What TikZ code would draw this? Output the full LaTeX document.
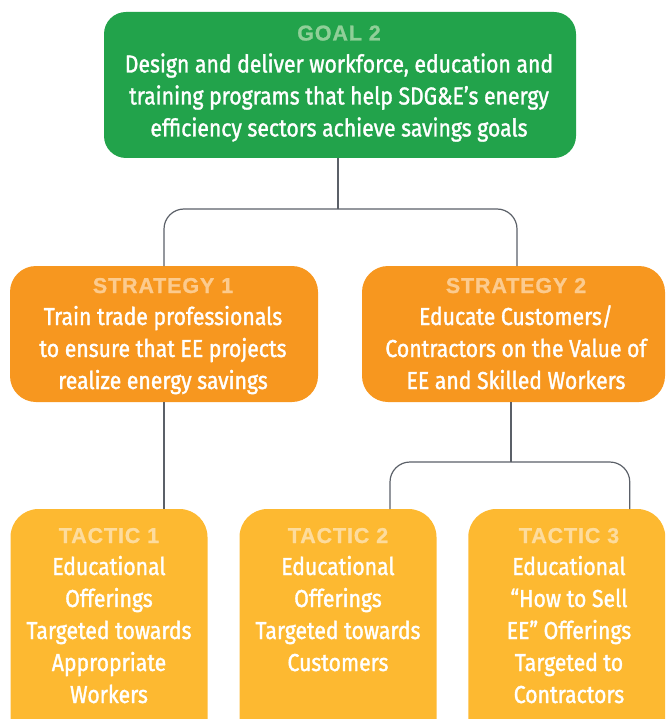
\documentclass[tikz,border=0pt]{standalone}
\usepackage{fontspec}
\newfontfamily\bodyfont{Fira Sans}[FakeStretch=0.865,FakeBold=1.4]
\newfontfamily\labfont{Liberation Sans}[LetterSpace=4,FakeBold=1]
\definecolor{goalgreen}{HTML}{22A34B}
\definecolor{goallab}{HTML}{90CF98}
\definecolor{stratorange}{HTML}{F7971F}
\definecolor{stratlab}{HTML}{FCCB8E}
\definecolor{tacyellow}{HTML}{FDB931}
\definecolor{taclab}{HTML}{FDDC9D}
\definecolor{connector}{HTML}{5B6068}
\newcommand{\topstrut}{\rule{0pt}{22pt}}
\newcommand{\lab}[2]{{\labfont\bfseries\color{#1}\fontsize{21.5}{32}\selectfont\topstrut #2}}
\begin{document}
\begin{tikzpicture}[x=1pt,y=-1pt,
  boxbase/.style={inner sep=0pt, outer sep=0pt, draw=none},
  goalbox/.style={boxbase, fill=goalgreen, rounded corners=22pt, minimum width=472pt, minimum height=146pt},
  stratbox/.style={boxbase, fill=stratorange, rounded corners=26pt, minimum height=136pt},
  tacbox/.style={boxbase, fill=tacyellow, rounded corners=28pt, minimum width=197pt, minimum height=251pt},
  boxtext/.style={inner sep=0pt, outer sep=0pt, anchor=north, align=center, text=white,
    font=\bodyfont\fontsize{24.5}{32}\selectfont},
  conn/.style={draw=connector, line width=1.2pt, rounded corners=20pt},
]
\useasboundingbox (0,0) rectangle (665,719);
\clip (0,0) rectangle (665,719);

% boxes
\node[goalbox] (goal) at (340,85) {};
\node[stratbox, minimum width=308pt] (s1) at (164,334) {};
\node[stratbox, minimum width=303pt] (s2) at (513.5,334) {};
\node[tacbox] (t1) at (109,634.5) {};
\node[tacbox] (t2) at (338,634.5) {};
\node[tacbox] (t3) at (566.75,634.5) {};

% connectors
\coordinate (j1) at ([xshift=-2pt,yshift=-51pt]goal.south);
\coordinate (j2) at ([xshift=-2.5pt,yshift=-60pt]s2.south);
\draw[conn] ([xshift=-2pt]goal.south) -- (j1);
\draw[conn] (j1) -| (s1.north);
\draw[conn] (j1) -| ([xshift=3.5pt]s2.north);
\draw[conn] (s1.south) -- (s1.south |- t1.north);
\draw[conn] ([xshift=-2.5pt]s2.south) -- (j2);
\draw[conn] (j2) -| ([xshift=52pt]t2.north);
\draw[conn] (j2) -| ([xshift=63pt]t3.north);

% texts
\node[boxtext] (goaltxt) at (339,18.5)
  {\lab{goallab}{GOAL 2}\\
   Design and deliver workforce, education and\\
   training programs that help SDG\&E’s energy\\
   efficiency sectors achieve savings goals};
\node[boxtext] (s1txt) at (163,271)
  {\lab{stratlab}{STRATEGY 1}\\
   Train trade professionals\\
   to ensure that EE projects\\
   realize energy savings};
\node[boxtext] (s2txt) at (516,271)
  {\lab{stratlab}{STRATEGY 2}\\
   Educate Customers/\\
   Contractors on the Value of\\
   EE and Skilled Workers};
\node[boxtext] (t1txt) at (109,521)
  {\lab{taclab}{TACTIC 1}\\
   Educational\\ Offerings\\ Targeted towards\\ Appropriate\\ Workers};
\node[boxtext] (t2txt) at (338,521)
  {\lab{taclab}{TACTIC 2}\\
   Educational\\ Offerings\\ Targeted towards\\ Customers};
\node[boxtext] (t3txt) at (569,521)
  {\lab{taclab}{TACTIC 3}\\
   Educational\\ “How to Sell\\ EE” Offerings\\ Targeted to\\ Contractors};
\end{tikzpicture}
\end{document}
